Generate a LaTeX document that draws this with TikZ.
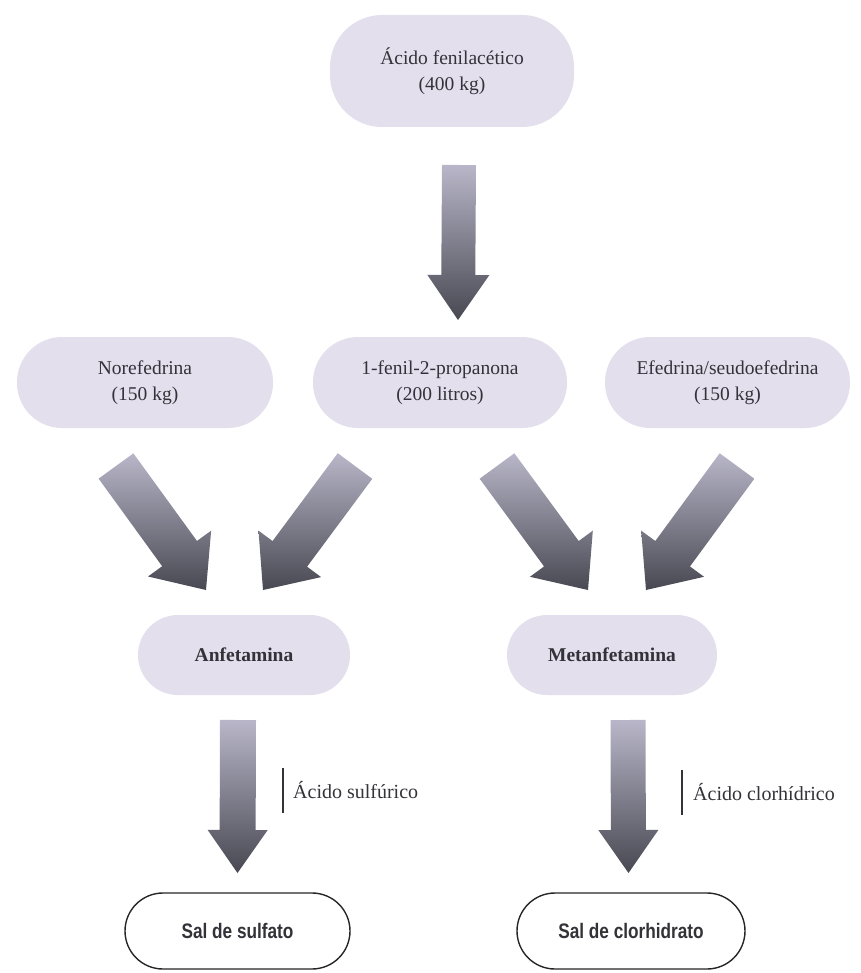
\documentclass[tikz,border=0pt]{standalone}
\usepackage{fontspec}
\setmainfont{Liberation Serif}
\newfontfamily\condfont[FakeStretch=0.82]{Liberation Sans}
\usetikzlibrary{calc}
\definecolor{boxfill}{RGB}{227,223,237}
\definecolor{txt}{RGB}{50,50,56}
\definecolor{arrlight}{RGB}{184,182,200}
\definecolor{arrdark}{RGB}{72,72,82}
\newcommand{\blockarrow}[5]{%
  \path ($(#2)!#5!(#1)$) coordinate (bb);
  \shade[top color=arrlight, bottom color=arrdark]
    ($(#1)!#3!90:(#2)$) -- ($(bb)!#3!90:(#2)$) -- ($(bb)!#4!90:(#2)$) -- (#2)
    -- ($(bb)!#4!-90:(#2)$) -- ($(bb)!#3!-90:(#2)$) -- ($(#1)!#3!-90:(#2)$) -- cycle;
}
\tikzset{
  pbox/.style={fill=boxfill, rounded corners=45pt, text=txt, align=center,
    inner sep=0pt, font=\fontsize{19.5}{26}\selectfont},
  bbox/.style={fill=boxfill, rounded corners=40pt, text=txt, align=center,
    inner sep=0pt, font=\fontsize{19.5}{24}\selectfont\bfseries},
  obox/.style={draw=black!85, line width=1.4pt, fill=white, rounded corners=38pt,
    text=txt, align=center, inner sep=0pt, font=\fontsize{21}{24}\selectfont\condfont\bfseries},
  lbl/.style={text=txt, anchor=west, inner sep=0pt, font=\fontsize{20}{24}\selectfont},
  barline/.style={draw=txt, line width=1.3pt}
}
\begin{document}
\begin{tikzpicture}[x=1pt,y=-1pt]
\useasboundingbox (0,0) rectangle (860,973);
% boxes
\node[pbox, rounded corners=52pt, minimum width=244pt, minimum height=112pt] (acido) at (452,71) {Ácido fenilacético\\(400 kg)};
\node[pbox, minimum width=256pt, minimum height=91pt] (nore) at (145,382.5) {Norefedrina\\(150 kg)};
\node[pbox, minimum width=254pt, minimum height=91pt] (fenil) at (440,382.5) {1-fenil-2-propanona\\(200 litros)};
\node[pbox, minimum width=245pt, minimum height=91pt] (efed) at (727.5,382.5) {Efedrina/seudoefedrina\\(150 kg)};
\node[bbox, minimum width=212pt, minimum height=80pt] (anf) at (244,655) {Anfetamina};
\node[bbox, minimum width=210pt, minimum height=80pt] (met) at (612,655) {Metanfetamina};
\node[obox, minimum width=225pt, minimum height=76pt] (sulf) at (237.5,931) {Sal de sulfato};
\node[obox, minimum width=228pt, minimum height=76pt] (clor) at (631,931) {Sal de clorhidrato};
% arrow end points
\coordinate (a1t) at (459,165);  \coordinate (a1h) at (458,320);
\coordinate (a2t) at (116,466);  \coordinate (a2h) at (206,590);
\coordinate (a3t) at (355,466);  \coordinate (a3h) at (263,590);
\coordinate (a4t) at (497,466);  \coordinate (a4h) at (588,590);
\coordinate (a5t) at (737,466);  \coordinate (a5h) at (646,590);
\coordinate (a6t) at (238,720);  \coordinate (a6h) at (237.5,873);
\coordinate (a7t) at (628,720);  \coordinate (a7h) at (628.5,873);
\blockarrow{a1t}{a1h}{17pt}{31pt}{45pt}
\blockarrow{a2t}{a2h}{21.5pt}{39pt}{45pt}
\blockarrow{a3t}{a3h}{21.5pt}{39pt}{45pt}
\blockarrow{a4t}{a4h}{21.5pt}{39pt}{45pt}
\blockarrow{a5t}{a5h}{21.5pt}{39pt}{45pt}
\blockarrow{a6t}{a6h}{18pt}{30pt}{43pt}
\blockarrow{a7t}{a7h}{17.5pt}{30pt}{43pt}
% side labels
\coordinate (b1t) at (283,768); \coordinate (b1b) at (283,813);
\coordinate (b2t) at (682,770); \coordinate (b2b) at (682,815);
\draw[barline] (b1t) -- (b1b);
\draw[barline] (b2t) -- (b2b);
\node[lbl] (l1) at (293,790) {Ácido sulfúrico};
\node[lbl] (l2) at (693,792) {Ácido clorhídrico};
\end{tikzpicture}
\end{document}
